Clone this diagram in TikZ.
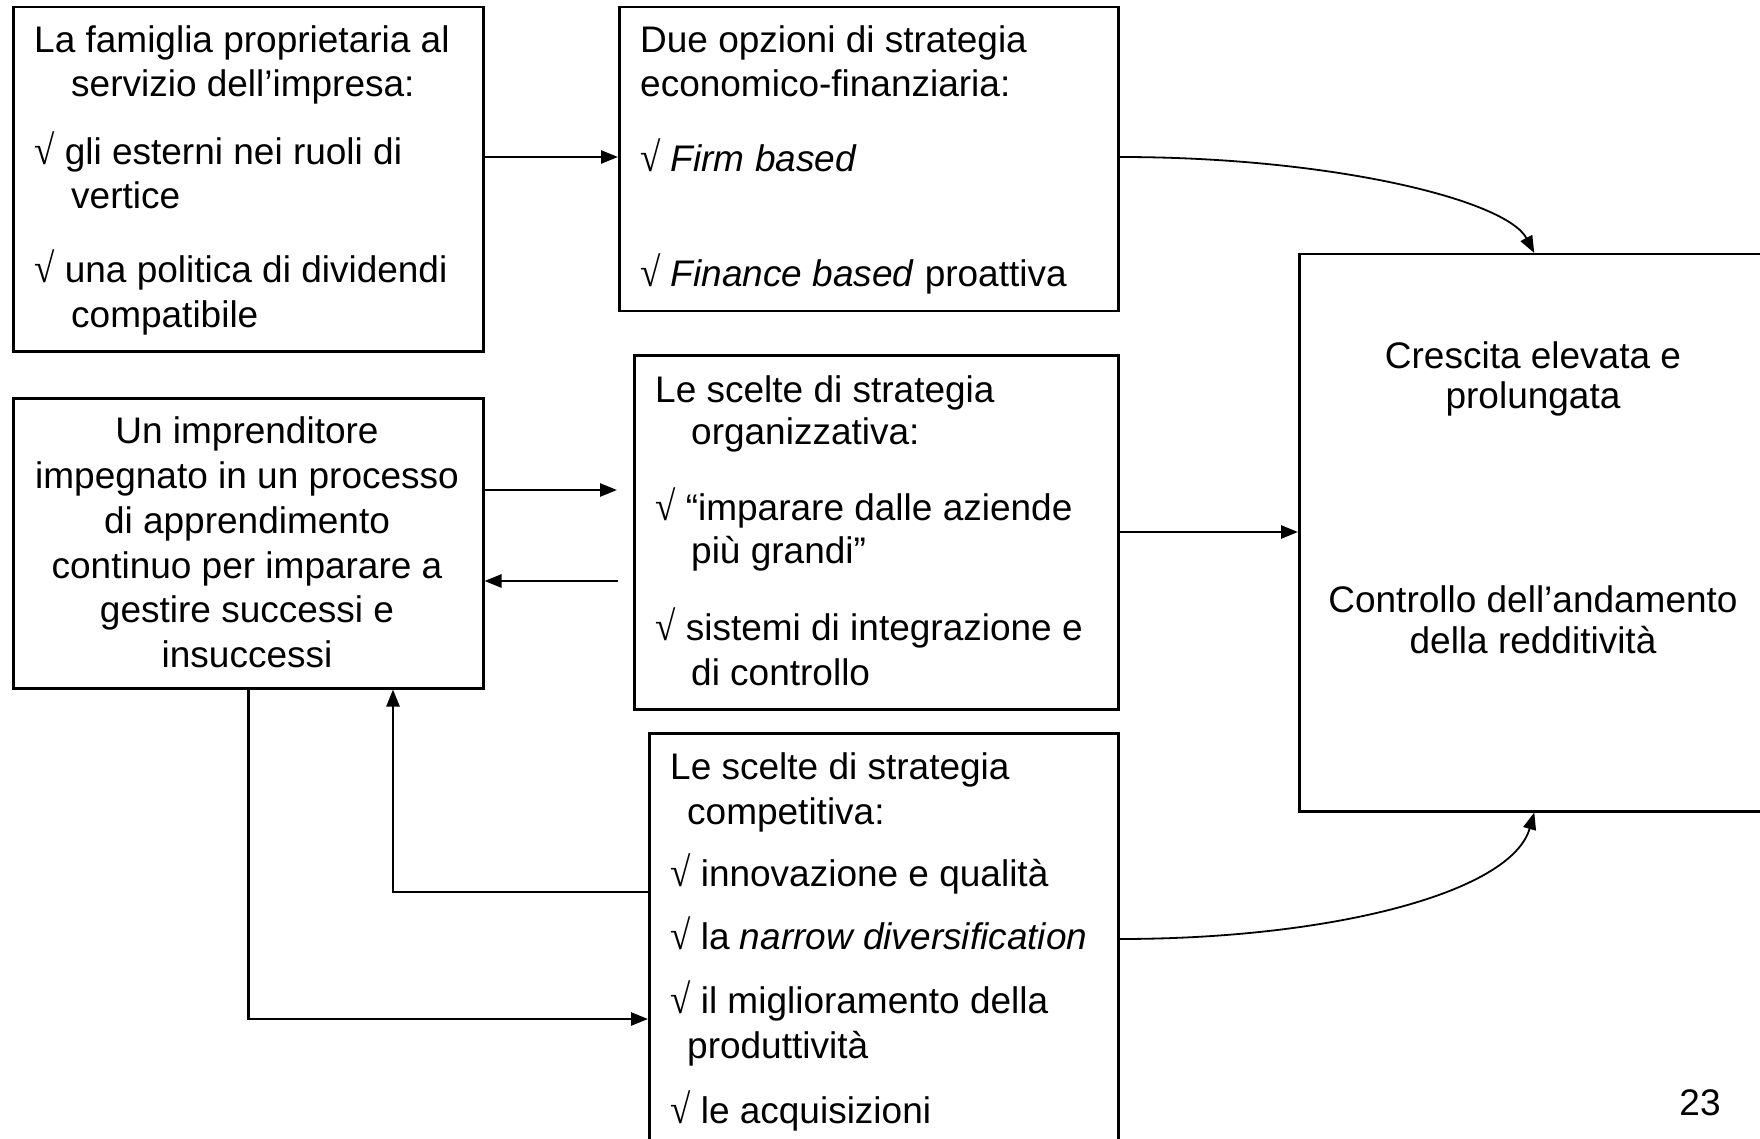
\documentclass[tikz,border=0pt]{standalone}
\usepackage{fontspec}
\setmainfont{Liberation Sans}
\newfontfamily\symfont{Liberation Serif}
\newcommand\chk{{\symfont\scalebox{1}[1.12]{√}}}
\usetikzlibrary{arrows.meta}
\begin{document}
\begin{tikzpicture}[x=1pt,y=-1pt,
  box/.style={draw, line width=2.5pt, rectangle, inner sep=0pt, anchor=north west},
  arr/.style={-{Triangle[length=17pt,width=13pt]}, line width=2.5pt},
  carr/.style={-{Triangle[length=17pt,width=13pt]}, line width=1.8pt},
  tl/.style={anchor=base west, inner sep=0pt, font=\fontsize{37}{44}\selectfont},
  tc/.style={anchor=base, inner sep=0pt, font=\fontsize{37}{44}\selectfont}]
\useasboundingbox (0,0) rectangle (1760,1139);
\clip (0,0) rectangle (1760,1139);
\fill[white] (0,0) rectangle (1760,1139);

% boxes
\node[box, minimum width=470pt, minimum height=344pt] (A) at (12,6) {};
\node[box, minimum width=499pt, minimum height=304pt] (B) at (618,6) {};
\node[box, minimum width=470pt, minimum height=290pt] (C) at (12,397) {};
\node[box, minimum width=484pt, minimum height=354pt] (D) at (633,354) {};
\node[box, minimum width=469pt, minimum height=440pt] (E) at (648,732) {};
\node[box, minimum width=470pt, minimum height=557pt] (F) at (1298,253) {};

% texts box A
\node[tl] (a1) at (34,53) {La famiglia proprietaria al};
\node[tl] (a2) at (71,97) {servizio dell’impresa:};
\node[tl] (a3) at (34,165) {\chk\ gli esterni nei ruoli di};
\node[tl] (a4) at (71,209) {vertice};
\node[tl] (a5) at (34,283) {\chk\ una politica di dividendi};
\node[tl] (a6) at (71,327) {compatibile};

% texts box B
\node[tl] (b1) at (640,53) {Due opzioni di strategia};
\node[tl] (b2) at (640,97) {economico-finanziaria:};
\node[tl] (b3) at (640,172) {\chk\ \textit{Firm based}};
\node[tl] (b4) at (640,287) {\chk\ \textit{Finance based} proattiva};

% texts box C
\node[tc] (c1) at (247,443) {Un imprenditore};
\node[tc] (c2) at (247,488) {impegnato in un processo};
\node[tc] (c3) at (247,533) {di apprendimento};
\node[tc] (c4) at (247,578) {continuo per imparare a};
\node[tc] (c5) at (247,622) {gestire successi e};
\node[tc] (c6) at (247,667) {insuccessi};

% texts box D
\node[tl] (d1) at (655,402) {Le scelte di strategia};
\node[tl] (d2) at (691,444) {organizzativa:};
\node[tl] (d3) at (655,520) {\chk\ “imparare dalle aziende};
\node[tl] (d4) at (691,563) {più grandi”};
\node[tl] (d5) at (655,640) {\chk\ sistemi di integrazione e};
\node[tl] (d6) at (691,685) {di controllo};

% texts box E
\node[tl] (e1) at (670,779) {Le scelte di strategia};
\node[tl] (e2) at (687,824) {competitiva:};
\node[tl] (e3) at (670,886) {\chk\ innovazione e qualità};
\node[tl] (e4) at (670,949) {\chk\ la \textit{narrow diversification}};
\node[tl] (e5) at (670,1013) {\chk\ il miglioramento della};
\node[tl] (e6) at (687,1058) {produttività};
\node[tl] (e7) at (670,1123) {\chk\ le acquisizioni};

% texts box F
\node[tc] (f1) at (1533,368) {Crescita elevata e};
\node[tc] (f2) at (1533,408) {prolungata};
\node[tc] (f3) at (1533,612) {Controllo dell’andamento};
\node[tc] (f4) at (1533,653) {della redditività};

% page number
\node[tc] (pg) at (1700,1115) {23};

% helper coordinates
\coordinate (yab) at (0,157);
\coordinate (ycd) at (0,490);
\coordinate (ydf) at (0,532);
\coordinate (ydc) at (0,581);
\coordinate (yec) at (0,892);
\coordinate (yef) at (0,939);
\coordinate (yce) at (0,1019);
\coordinate (xup) at (393,0);

% connectors
\draw[arr] (A.east |- yab) -- (B.west |- yab);
\draw[carr] (B.east |- yab) .. controls +(213,0) and +(-28,-53) .. (F.north);
\draw[arr, shorten >=16pt] (C.east |- ycd) -- (D.west |- ycd);
\draw[arr, shorten <=15pt] (D.west |- ydc) -- (C.east |- ydc);
\draw[arr] (D.east |- ydf) -- (F.west |- ydf);
\draw[arr] (E.west |- yec) -| (xup |- C.south);
\draw[arr] (C.south) |- (E.west |- yce);
\draw[carr] (E.east |- yef) .. controls +(213,0) and +(-23,80) .. (F.south);
\end{tikzpicture}
\end{document}
